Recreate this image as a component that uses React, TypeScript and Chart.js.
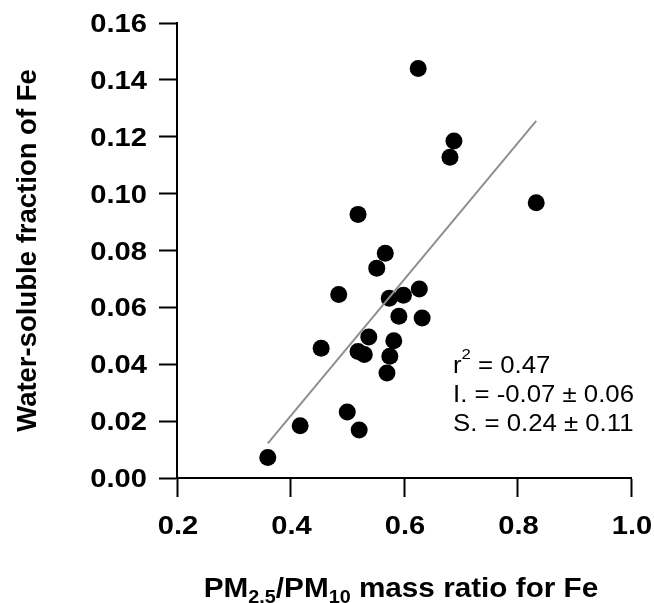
import React, { useEffect, useRef } from "react";
import { Chart, registerables } from "chart.js";

Chart.register(...registerables);

const FONT = "'Liberation Sans', Arial, Helvetica, sans-serif";

// PM2.5/PM10 mass ratio for Fe (x) and water-soluble fraction of Fe (y)
const massRatio = [
  0.625, 0.688, 0.681, 0.833, 0.519, 0.567, 0.552, 0.485, 0.574, 0.599, 0.627, 0.591,
  0.632, 0.538, 0.582, 0.454, 0.519, 0.530, 0.575, 0.570, 0.500, 0.417, 0.521, 0.360,
];
const solubleFraction = [
  0.144, 0.1185, 0.1128, 0.0968, 0.0927, 0.079, 0.0738, 0.0645, 0.0632, 0.0643, 0.0665, 0.0569,
  0.0563, 0.0496, 0.0483, 0.0456, 0.0445, 0.0434, 0.0428, 0.0369, 0.0232, 0.0184, 0.0169, 0.0072,
];

// regression line end points
const fitX = [0.36, 0.833];
const fitY = [0.0122, 0.1256];

const xTicks = [0.2, 0.4, 0.6, 0.8, 1.0];
const yTicks = [0.0, 0.02, 0.04, 0.06, 0.08, 0.1, 0.12, 0.14, 0.16];
const xTickLabels = ["0.2", "0.4", "0.6", "0.8", "1.0"];
const yTickLabels = ["0.00", "0.02", "0.04", "0.06", "0.08", "0.10", "0.12", "0.14", "0.16"];

const statR2 = "0.47";
const statIntercept = "I. = -0.07 ± 0.06";
const statSlope = "S. = 0.24 ± 0.11";

function drawStretched(
  ctx: CanvasRenderingContext2D,
  text: string,
  x: number,
  y: number,
  align: CanvasTextAlign,
  sx: number
) {
  ctx.save();
  ctx.translate(x, y);
  ctx.scale(sx, 1);
  ctx.textAlign = align;
  ctx.fillText(text, 0, 0);
  ctx.restore();
}

const textPlugin = {
  id: "customTexts",
  afterDraw(chart: any) {
    const ctx: CanvasRenderingContext2D = chart.ctx;
    const area = chart.chartArea;
    const xs = chart.scales.x;
    const ys = chart.scales.y;
    ctx.save();
    ctx.fillStyle = "#000";
    ctx.textBaseline = "alphabetic";

    // tick labels
    const tickSx = 1.12;
    ctx.font = `bold 26px ${FONT}`;
    yTicks.forEach((v, i) => {
      drawStretched(ctx, yTickLabels[i], 147, ys.getPixelForValue(v) + 9, "right", tickSx);
    });
    xTicks.forEach((v, i) => {
      drawStretched(ctx, xTickLabels[i], xs.getPixelForValue(v) + 1, 534, "center", tickSx);
    });

    // x-axis title with subscripts
    const titleSx = 1.1;
    const big = `bold 27px ${FONT}`;
    const small = `bold 18px ${FONT}`;
    const parts = [
      { t: "PM", f: big, dy: 0 },
      { t: "2.5", f: small, dy: 6 },
      { t: "/PM", f: big, dy: 0 },
      { t: "10", f: small, dy: 6 },
      { t: " mass ratio for Fe", f: big, dy: 0 },
    ];
    let total = 0;
    for (const p of parts) {
      ctx.font = p.f;
      total += ctx.measureText(p.t).width * titleSx;
    }
    let x = (area.left + area.right) / 2 - 3 - total / 2;
    const base = 597;
    for (const p of parts) {
      ctx.font = p.f;
      drawStretched(ctx, p.t, x, base + p.dy, "left", titleSx);
      x += ctx.measureText(p.t).width * titleSx;
    }

    // statistics annotation
    const annSx = 1.12;
    const norm = `23px ${FONT}`;
    const sup = `15px ${FONT}`;
    const ax = 453;
    ctx.font = norm;
    drawStretched(ctx, "r", ax, 373, "left", annSx);
    const rw = ctx.measureText("r").width * annSx;
    ctx.font = sup;
    drawStretched(ctx, "2", ax + rw, 359, "left", annSx);
    const sw = ctx.measureText("2").width * annSx;
    ctx.font = norm;
    drawStretched(ctx, " = " + statR2, ax + rw + sw, 373, "left", annSx);
    drawStretched(ctx, statIntercept, ax, 402, "left", annSx);
    drawStretched(ctx, statSlope, ax, 431, "left", annSx);
    ctx.restore();
  },
};

export default function App() {
  const ref = useRef<HTMLCanvasElement | null>(null);

  useEffect(() => {
    if (!ref.current) return;
    const points = massRatio.map((v, i) => ({ x: v, y: solubleFraction[i] }));
    const fit = fitX.map((v, i) => ({ x: v, y: fitY[i] }));

    const chart = new Chart(ref.current, {
      type: "scatter",
      data: {
        datasets: [
          {
            type: "line",
            label: "fit",
            data: fit,
            borderColor: "#8f8f8f",
            borderWidth: 2,
            pointRadius: 0,
            fill: false,
            order: 0,
          } as any,
          {
            type: "scatter",
            label: "data",
            data: points,
            backgroundColor: "#000",
            borderWidth: 0,
            pointRadius: 8.5,
            order: 1,
          },
        ],
      },
      options: {
        animation: false,
        responsive: false,
        devicePixelRatio: 1,
        layout: { padding: { left: 0, top: 23, right: 23, bottom: 0 } },
        plugins: {
          legend: { display: false },
          tooltip: { enabled: false },
        },
        scales: {
          x: {
            type: "linear",
            min: 0.2,
            max: 1.0,
            afterBuildTicks: (s: any) => {
              s.ticks = xTicks.map((v) => ({ value: v }));
            },
            afterFit: (s: any) => {
              s.height = 125;
            },
            ticks: { display: false },
            grid: {
              drawOnChartArea: false,
              drawTicks: true,
              tickLength: 19,
              tickWidth: 2,
              tickColor: "#000",
            },
            border: { display: true, color: "#000", width: 2 },
          },
          y: {
            type: "linear",
            min: 0,
            max: 0.16,
            afterBuildTicks: (s: any) => {
              s.ticks = yTicks.map((v) => ({ value: v }));
            },
            afterFit: (s: any) => {
              s.width = 177;
            },
            ticks: { display: false },
            grid: {
              drawOnChartArea: false,
              drawTicks: true,
              tickLength: 18,
              tickWidth: 2,
              tickColor: "#000",
            },
            border: { display: true, color: "#000", width: 2 },
            title: {
              display: true,
              text: "Water-soluble fraction of Fe",
              color: "#000",
              font: { family: FONT, size: 27.5, weight: "bold" },
              padding: { top: 12, bottom: 0 },
            },
          },
        },
      },
      plugins: [textPlugin],
    });
    return () => chart.destroy();
  }, []);

  return (
    <div style={{ position: "fixed", left: 0, top: 0, width: 654, height: 603, background: "#fff" }}>
      <canvas ref={ref} width={654} height={603} style={{ display: "block" }} />
    </div>
  );
}
